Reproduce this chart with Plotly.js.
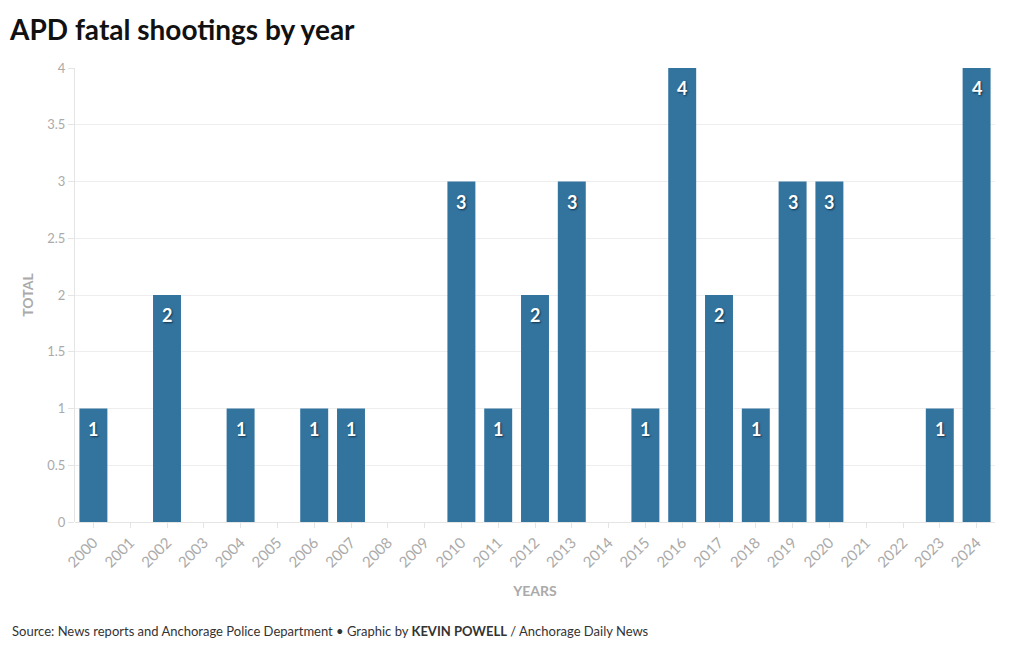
<!DOCTYPE html>
<html>
<head>
<meta charset="utf-8">
<script src="https://cdn.plot.ly/plotly-3.0.1.min.js"></script>
<style>
  html, body { margin: 0; padding: 0; background: #fff; }
  #chart { width: 1020px; height: 650px; }
</style>
</head>
<body>
<div id="chart"></div>
<script>
const years = ['2000','2001','2002','2003','2004','2005','2006','2007','2008','2009','2010','2011','2012','2013','2014','2015','2016','2017','2018','2019','2020','2021','2022','2023','2024'];
const totals = [1,0,2,0,1,0,1,1,0,0,3,1,2,3,0,1,4,2,1,3,3,0,0,1,4];

const FONT = 'Lato, "Source Sans Pro", "Noto Sans", sans-serif';
const plotL = 75, plotR = 25, plotT = 68, plotB = 128;
const plotW = 1020 - plotL - plotR, plotH = 650 - plotT - plotB;

const trace = {
  type: 'bar',
  x: years,
  y: totals,
  marker: { color: '#33749f', line: { width: 0 } },
  hoverinfo: 'x+y'
};

// value labels placed on the category axis by category index
const valueLabels = years.map((yr, i) => totals[i] > 0 ? ({
  x: i, y: totals[i], xref: 'x', yref: 'y',
  text: '<b>' + totals[i] + '</b>',
  showarrow: false,
  yanchor: 'middle', yshift: -20,
  font: { family: FONT, size: 18, color: '#ffffff', shadow: '1px 1px 2px #12324a' }
}) : null).filter(a => a);

const layout = {
  width: 1020,
  height: 650,
  margin: { l: plotL, r: plotR, t: plotT, b: plotB, pad: 0 },
  paper_bgcolor: '#ffffff',
  plot_bgcolor: '#ffffff',
  font: { family: FONT, color: '#aaaaaa' },
  bargap: 0.24,
  showlegend: false,
  title: {
    text: '<b>APD fatal shootings by year</b>',
    font: { family: FONT, size: 28, color: '#111111' },
    x: 10 / 1020, xref: 'container', xanchor: 'left',
    y: 1 - 30 / 650, yref: 'container', yanchor: 'middle'
  },
  xaxis: {
    type: 'category',
    tickangle: -45,
    tickfont: { family: FONT, size: 15, color: '#aaaaaa' },
    ticks: 'outside', ticklen: 5, tickcolor: '#e4e4e4',
    showline: false,
    showgrid: false,
    zeroline: false,
    title: { text: '<b>YEARS</b>', font: { family: FONT, size: 14, color: '#aaaaaa' }, standoff: 16 }
  },
  yaxis: {
    range: [0, 4],
    dtick: 0.5,
    tickfont: { family: FONT, size: 13, color: '#aaaaaa' },
    ticks: 'outside', ticklen: 6, tickcolor: '#e4e4e4',
    showgrid: true, gridcolor: '#eeeeee', gridwidth: 1,
    zeroline: true, zerolinecolor: '#e4e4e4', zerolinewidth: 1,
    showline: true, linecolor: '#e4e4e4', linewidth: 1,
    title: { text: '<b>TOTAL</b>', font: { family: FONT, size: 14, color: '#aaaaaa' }, standoff: 10 }
  },
  annotations: valueLabels.concat([{
    text: 'Source: News reports and Anchorage Police Department • Graphic by <b>KEVIN POWELL</b> / Anchorage Daily News',
    xref: 'paper', yref: 'paper',
    x: (10 - plotL) / plotW, xanchor: 'left',
    y: -(631 - (plotT + plotH)) / plotH, yanchor: 'middle',
    showarrow: false,
    font: { family: FONT, size: 13, color: '#333333' }
  }])
};

Plotly.newPlot('chart', [trace], layout, { displayModeBar: false, staticPlot: true });
</script>
</body>
</html>
